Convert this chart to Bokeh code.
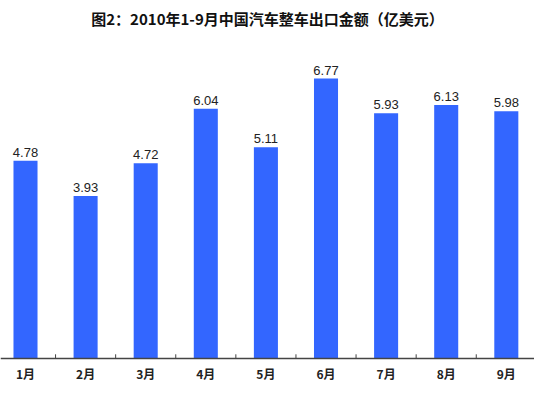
from bokeh.plotting import figure
from bokeh.models import ColumnDataSource, Range1d, Span
from bokeh.core.properties import value
from bokeh.embed import file_html
from bokeh.resources import INLINE

months = ["1月", "2月", "3月", "4月", "5月", "6月", "7月", "8月", "9月"]
values = [4.78, 3.93, 4.72, 6.04, 5.11, 6.77, 5.93, 6.13, 5.98]
value_labels = ["4.78", "3.93", "4.72", "6.04", "5.11", "6.77", "5.93", "6.13", "5.98"]
positions = list(range(1, len(months) + 1))
boundaries = [i + 0.5 for i in range(0, len(months) + 1)]

src = ColumnDataSource(dict(x=positions, top=values, lab=value_labels,
                            base=[0] * len(months), month=months))
tick_src = ColumnDataSource(dict(x=boundaries, y0=[0] * len(boundaries),
                                 y1=[0.1] * len(boundaries)))

p = figure(width=534, height=381, output_backend="svg", toolbar_location=None,
           x_range=Range1d(0.584, 9.469), y_range=Range1d(-0.558, 7.86),
           min_border_left=0, min_border_right=0, min_border_top=0, min_border_bottom=0)

p.title.text = "图2：2010年1-9月中国汽车整车出口金额（亿美元）"
p.title.align = "center"
p.title.text_font = "Noto Sans CJK SC"
p.title.text_font_size = "15px"
p.title.text_font_style = "bold"
p.title.text_color = "#111111"

p.vbar(x="x", top="top", width=0.4, bottom=0, source=src,
       fill_color="#3366ff", line_color=None)

p.text(x="x", y="top", text="lab", source=src, text_align="center",
       text_baseline="bottom", y_offset=-4, text_font_size="13px",
       text_font=value("Liberation Sans"), text_color="#222222")

p.text(x="x", y="base", text="month", source=src, text_align="center",
       text_baseline="middle", y_offset=15, text_font_size="12px",
       text_font=value("Noto Sans CJK SC"), text_font_style="bold",
       text_color="#222222")

p.add_layout(Span(location=0, dimension="width", line_color="#444444", line_width=1.5))
p.segment(x0="x", y0="y0", x1="x", y1="y1", source=tick_src,
          line_color="#444444", line_width=1)

p.xaxis.visible = False
p.yaxis.visible = False
p.xgrid.visible = False
p.ygrid.visible = False
p.outline_line_color = None

open("out.html", "w").write(file_html(p, INLINE))
